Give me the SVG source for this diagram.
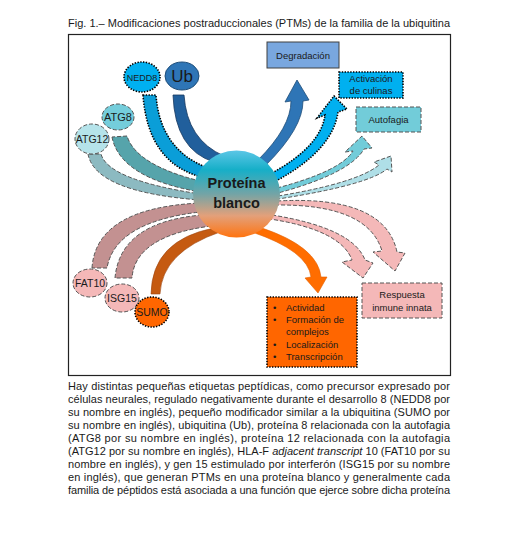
<svg xmlns="http://www.w3.org/2000/svg" width="526" height="537" viewBox="0 0 526 537">
<style>
.t{font-family:"Liberation Sans",Arial,sans-serif;fill:#1a1a1a}
.cap{font-family:"Liberation Sans",Arial,sans-serif;font-size:11px;fill:#1a1a1a}
.lbl{font-family:"Liberation Sans",Arial,sans-serif;fill:#1a1a1a;text-anchor:middle}
.dot{stroke:#000;stroke-width:1.6;stroke-dasharray:1.4 1.4}
.dash{stroke:#555;stroke-width:1;stroke-dasharray:4 2}
</style>
<defs>
<linearGradient id="gTarget" x1="0" y1="0" x2="0" y2="1">
<stop offset="0" stop-color="#5cc6e6"/>
<stop offset="0.22" stop-color="#16afc8"/>
<stop offset="0.5" stop-color="#73a4a6"/>
<stop offset="0.75" stop-color="#e3a07a"/>
<stop offset="1" stop-color="#ff7410"/>
</linearGradient>
</defs>
<rect width="526" height="537" fill="#fff"/>
<text class="t" x="68" y="26.5" font-size="11" textLength="382" lengthAdjust="spacingAndGlyphs">Fig. 1.– Modificaciones postraduccionales (PTMs) de la familia de la ubiquitina</text>
<rect x="68.5" y="34.5" width="382" height="341" fill="none" stroke="#222" stroke-width="1.2"/>

<g id="connectors">
<path d="M 173,95 Q 175,150 214,162 L 224,156 Q 187,140 184,95 Z" fill="#215f9c" stroke="#17375e" stroke-width="0.8"/>
<path d="M 143,95 Q 148,165 205,178 L 208,168 Q 160,150 156,95 Z" fill="#0a9ed8" class="dot"/>
<path d="M 112,137 Q 120,178 200,192 L 200,181 Q 136,165 127,136 Z" fill="#56a4ab" class="dash"/>
<path d="M 88,154 Q 95,192 200,200 L 200,194 Q 108,180 101,154 Z" fill="#8cbac1" class="dash"/>
<path d="M 92,268 Q 96,208 200,203 L 200,212 Q 115,222 107,268 Z" fill="#c39191" class="dash"/>
<path d="M 115,278 Q 120,222 202,215 L 211,226 Q 135,236 132,278 Z" fill="#c39191" class="dash"/>
<path d="M 151,294 Q 152,240 214,228 L 220,232 Q 162,252 160,294 Z" fill="#c55a11" stroke="#9c4510" stroke-width="0.6"/>
<path d="M 258,160 Q 291,127 291,101 L 285,102 L 297,80 L 309,100 L 303,101 Q 303,128 266,165 Z" fill="#2e75b6" stroke="#1f4e79" stroke-width="0.8"/>
<path d="M 272,173 Q 321,146 325,115 L 317,118 L 334,96 L 347,109 L 338,112 Q 333,150 276,181 Z" fill="#00b0f0" class="dot"/>
<path d="M 277,188 Q 341,171 353,151 L 345,152 L 362,136 L 372,148 L 364,149 Q 350,173.5 278,193 Z" fill="#72ccd9" class="dash"/>
<path d="M 278,196 Q 357,183 379,165 L 374,162 L 391,156 L 392,172 L 387,169 Q 368,185 278,199 Z" fill="#afdfe7" class="dash"/>
<path d="M 277,201 Q 385,195 397,252 L 405,253 L 395,271 L 373,252 L 382,251 Q 368,204 276,205 Z" fill="#f4b8b8" class="dash"/>
<path d="M 272,215 Q 353,228 365,260 L 373,263 L 363,278 L 342,262 L 352,260 Q 341,230 270,219 Z" fill="#f4b8b8" class="dash"/>
<path d="M 262,228 Q 318,247 321,277 L 327,277 L 318,293 L 305,278 L 311,277 Q 308,251 252,232 Z" fill="#ff6d00" stroke="#e06000" stroke-width="0.6"/>
</g>

<g id="node-ub">
<ellipse cx="182" cy="76" rx="17" ry="14" fill="#2e75b6" stroke="#1f4e79" stroke-width="1"/>
<text class="lbl" x="182" y="82" font-size="17">Ub</text>
</g>
<g id="node-nedd8">
<ellipse cx="142" cy="77" rx="18" ry="15" fill="#00b0f0" class="dot"/>
<text class="lbl" x="142" y="80.5" font-size="9">NEDD8</text>
</g>
<g id="node-atg8">
<ellipse cx="118" cy="117" rx="16" ry="13" fill="#74cddb" class="dash"/>
<text class="lbl" x="118" y="121" font-size="11">ATG8</text>
</g>
<g id="node-atg12">
<ellipse cx="92" cy="139" rx="17" ry="15" fill="#b5e3ea" class="dash"/>
<text class="lbl" x="92" y="143" font-size="10.5">ATG12</text>
</g>
<g id="node-fat10">
<ellipse cx="90" cy="283" rx="17" ry="14" fill="#f4b8b8" class="dash"/>
<text class="lbl" x="90" y="287" font-size="10.5">FAT10</text>
</g>
<g id="node-isg15">
<ellipse cx="122" cy="298" rx="17" ry="14" fill="#f4b8b8" class="dash"/>
<text class="lbl" x="122" y="302" font-size="10.5">ISG15</text>
</g>
<g id="node-sumo">
<ellipse cx="152" cy="312" rx="17" ry="15" fill="#ff6600" class="dot"/>
<text class="lbl" x="152" y="316" font-size="10.5">SUMO</text>
</g>

<g id="node-target">
<circle cx="236.5" cy="194" r="43.5" fill="url(#gTarget)"/>
<text class="lbl" x="236.5" y="188" font-size="14.5" font-weight="bold">Proteína</text>
<text class="lbl" x="236.5" y="208" font-size="14.5" font-weight="bold">blanco</text>
</g>

<g id="node-degradacion">
<rect x="267" y="42" width="72" height="26" fill="#79a7df" stroke="#404040" stroke-width="1"/>
<text class="lbl" x="303" y="59" font-size="9.5">Degradación</text>
</g>
<g id="node-activacion">
<rect x="339" y="72" width="64" height="26" fill="#00b0f0" class="dot"/>
<text class="lbl" x="371" y="82" font-size="9.5">Activación</text>
<text class="lbl" x="371" y="93.5" font-size="9.5">de culinas</text>
</g>
<g id="node-autofagia">
<rect x="356" y="107" width="65" height="25" fill="#72ccd9" class="dash"/>
<text class="lbl" x="388.5" y="123" font-size="9.5">Autofagia</text>
</g>
<g id="node-respuesta">
<rect x="362" y="283" width="80" height="35" fill="#f4b8b8" class="dash"/>
<text class="lbl" x="402" y="298" font-size="9.5">Respuesta</text>
<text class="lbl" x="402" y="310.5" font-size="9.5">inmune innata</text>
</g>
<g id="node-funciones">
<rect x="267" y="297" width="90" height="70" fill="#ff6600" class="dot"/>
<g class="t" font-size="9.5">
<text x="273" y="310.5">•</text><text x="286" y="310.5">Actividad</text>
<text x="273" y="323">•</text><text x="286" y="323">Formación de</text>
<text x="286" y="335">complejos</text>
<text x="273" y="348">•</text><text x="286" y="348">Localización</text>
<text x="273" y="360">•</text><text x="286" y="360">Transcripción</text>
</g>
</g>

<g id="caption">
<text class="cap" x="68" y="390" textLength="382" lengthAdjust="spacing">Hay distintas pequeñas etiquetas peptídicas, como precursor expresado por</text>
<text class="cap" x="68" y="403" textLength="382" lengthAdjust="spacing">células neurales, regulado negativamente durante el desarrollo 8 (NEDD8 por</text>
<text class="cap" x="68" y="416" textLength="382" lengthAdjust="spacing">su nombre en inglés), pequeño modificador similar a la ubiquitina (SUMO por</text>
<text class="cap" x="68" y="429" textLength="382" lengthAdjust="spacing">su nombre en inglés), ubiquitina (Ub), proteína 8 relacionada con la autofagia</text>
<text class="cap" x="68" y="442" textLength="382" lengthAdjust="spacing">(ATG8 por su nombre en inglés), proteína 12 relacionada con la autofagia</text>
<text class="cap" x="68" y="455" textLength="382" lengthAdjust="spacing">(ATG12 por su nombre en inglés), HLA-F <tspan font-style="italic">adjacent transcript</tspan> 10 (FAT10 por su</text>
<text class="cap" x="68" y="468" textLength="382" lengthAdjust="spacing">nombre en inglés), y gen 15 estimulado por interferón (ISG15 por su nombre</text>
<text class="cap" x="68" y="481" textLength="382" lengthAdjust="spacing">en inglés), que generan PTMs en una proteína blanco y generalmente cada</text>
<text class="cap" x="68" y="494" textLength="382" lengthAdjust="spacing">familia de péptidos está asociada a una función que ejerce sobre dicha proteína</text>
</g>
</svg>
